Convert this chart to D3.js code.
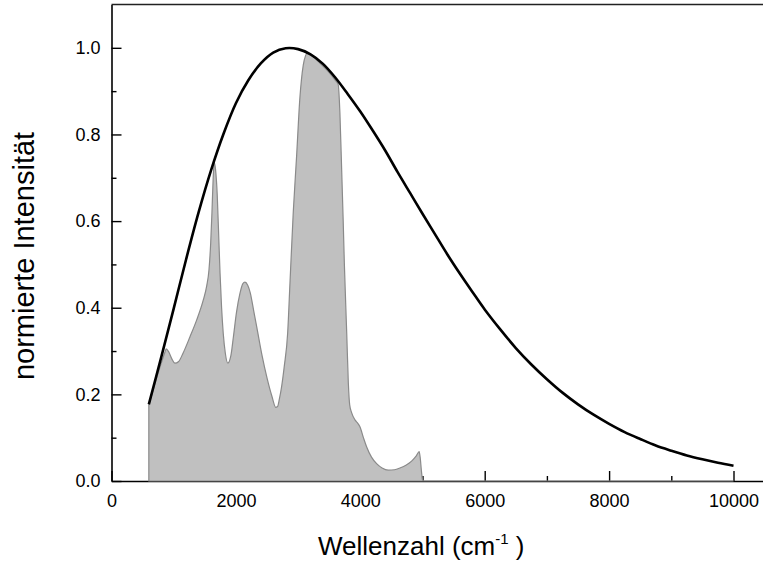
<!DOCTYPE html>
<html>
<head>
<meta charset="utf-8">
<script src="https://cdn.jsdelivr.net/npm/d3@7"></script>
<style>
  body { margin: 0; background: #fff; }
  svg { display: block; }
  text { font-family: "Liberation Sans", Arial, sans-serif; fill: #000; }
</style>
</head>
<body>
<svg id="chart" width="763" height="566"></svg>
<script>
// Measured spectrum (wavenumber in cm^-1, normalised intensity)
const spectrumX = [600, 700, 800, 860, 880, 920, 970, 1020, 1080, 1150, 1262, 1370, 1476, 1530, 1567,
  1595, 1615, 1635, 1652, 1672, 1700, 1725, 1745, 1770, 1797, 1830, 1870, 1920, 1960, 2010, 2065,
  2110, 2146, 2190, 2230, 2290, 2340, 2420, 2500, 2580, 2640, 2670, 2700, 2735, 2777, 2832, 2869,
  2922, 2976, 3029, 3083, 3120, 3150, 3200, 3300, 3400, 3500, 3600, 3645, 3672, 3700, 3725, 3744,
  3782, 3808, 3830, 3860, 3915, 3960, 3994, 4050, 4101, 4180, 4262, 4350, 4449, 4550, 4637, 4740,
  4825, 4900, 4947, 4962, 4985, 5000, 5020, 6000, 8000, 10000];
const spectrumY = [0.175, 0.225, 0.272, 0.298, 0.305, 0.298, 0.282, 0.272, 0.276, 0.295, 0.333, 0.372, 0.418, 0.450, 0.487,
  0.550, 0.620, 0.700, 0.735, 0.720, 0.660, 0.560, 0.480, 0.400, 0.340, 0.295, 0.272, 0.290, 0.333, 0.390, 0.433,
  0.455, 0.459, 0.452, 0.435, 0.390, 0.352, 0.290, 0.238, 0.195, 0.170, 0.172, 0.190, 0.218, 0.264, 0.341, 0.456,
  0.620, 0.750, 0.885, 0.960, 0.982, 0.988, 0.985, 0.972, 0.958, 0.943, 0.925, 0.915, 0.850, 0.720, 0.600, 0.500,
  0.340, 0.225, 0.175, 0.158, 0.141, 0.133, 0.125, 0.100, 0.079, 0.055, 0.040, 0.030, 0.025, 0.026, 0.030, 0.037,
  0.046, 0.058, 0.068, 0.055, 0.020, 0.003, 0, 0, 0, 0];

// Black-body reference curve, normalised to its maximum
const planckX = [600, 800, 1000, 1200, 1400, 1600, 1800, 2000, 2200, 2400, 2600, 2800, 3000, 3200, 3400,
  3600, 3800, 4000, 4200, 4400, 4600, 4800, 5000, 5200, 5400, 5600, 5800, 6000, 6250, 6500, 6750,
  7000, 7250, 7500, 7750, 8000, 8250, 8500, 8750, 9000, 9250, 9500, 9750, 10000];
const planckY = [0.177, 0.286, 0.398, 0.512, 0.620, 0.717, 0.801, 0.872, 0.925, 0.964, 0.989, 0.999, 0.997, 0.985, 0.963,
  0.931, 0.893, 0.853, 0.809, 0.763, 0.713, 0.665, 0.617, 0.570, 0.523, 0.479, 0.437, 0.396, 0.350, 0.307, 0.269,
  0.235, 0.204, 0.177, 0.153, 0.132, 0.113, 0.097, 0.082, 0.070, 0.059, 0.050, 0.042, 0.035];

const xMajorTicks = [0, 2000, 4000, 6000, 8000, 10000];
const xMinorTicks = [1000, 3000, 5000, 7000, 9000];
const yMajorTicks = [0, 0.2, 0.4, 0.6, 0.8, 1.0];
const yMinorTicks = [0.1, 0.3, 0.5, 0.7, 0.9];

const svg = d3.select("#chart");
const plotLeft = 111.5, plotTop = 4.5, plotBottom = 481;

const x = d3.scaleLinear().domain([0, 10500]).range([plotLeft, plotLeft + 10500 * 0.0622]);
const y = d3.scaleLinear().domain([0, 1.1]).range([plotBottom, plotTop]);

// axes
svg.append("g").attr("transform", `translate(0,${plotBottom})`)
  .call(d3.axisBottom(x).tickValues(xMajorTicks).tickSize(-10).tickSizeOuter(0)
    .tickPadding(13.5).tickFormat(d3.format("d")));
svg.append("g").attr("transform", `translate(0,${plotBottom})`)
  .call(d3.axisBottom(x).tickValues(xMinorTicks).tickSize(-5).tickSizeOuter(0).tickFormat(""))
  .call(g => g.select(".domain").remove());

svg.append("g").attr("transform", `translate(${plotLeft},0)`)
  .call(d3.axisLeft(y).tickValues(yMajorTicks).tickSize(-10).tickSizeOuter(0)
    .tickPadding(11).tickFormat(d3.format(".1f")));
svg.append("g").attr("transform", `translate(${plotLeft},0)`)
  .call(d3.axisLeft(y).tickValues(yMinorTicks).tickSize(-5).tickSizeOuter(0).tickFormat(""))
  .call(g => g.select(".domain").remove());

svg.selectAll(".domain").attr("stroke", "#000").attr("stroke-width", 1.6);
svg.selectAll(".tick line").attr("stroke", "#000").attr("stroke-width", 1.4);
svg.selectAll(".tick text").attr("font-size", 18).attr("font-family", "'Liberation Sans', Arial, sans-serif");

// frame top edge
svg.append("line")
  .attr("x1", plotLeft).attr("x2", 763).attr("y1", plotTop).attr("y2", plotTop)
  .attr("stroke", "#222").attr("stroke-width", 1.6);

// spectrum (filled)
const spectrum = spectrumX.map((v, i) => [v, spectrumY[i]]);
svg.append("path")
  .datum(spectrum)
  .attr("d", d3.area().x(d => x(d[0])).y0(y(0)).y1(d => y(d[1])).curve(d3.curveMonotoneX))
  .attr("fill", "#c0c0c0")
  .attr("stroke", "#8a8a8a")
  .attr("stroke-width", 1.2);

// black-body curve
const planck = planckX.map((v, i) => [v, planckY[i]]);
svg.append("path")
  .datum(planck)
  .attr("d", d3.line().x(d => x(d[0])).y(d => y(d[1])).curve(d3.curveCatmullRom.alpha(0.5)))
  .attr("fill", "none")
  .attr("stroke", "#000")
  .attr("stroke-width", 2.6);

// axis titles
const xt = svg.append("text")
  .attr("x", 318).attr("y", 555).attr("font-size", 26);
xt.append("tspan").text("Wellenzahl (cm");
xt.append("tspan").attr("font-size", 15).attr("dy", -11).text("-1");
xt.append("tspan").attr("dy", 11).text(" )");

svg.append("text")
  .attr("transform", "translate(33.5,256) rotate(-90)")
  .attr("text-anchor", "middle")
  .attr("font-size", 29)
  .text("normierte Intensität");
</script>
</body>
</html>
